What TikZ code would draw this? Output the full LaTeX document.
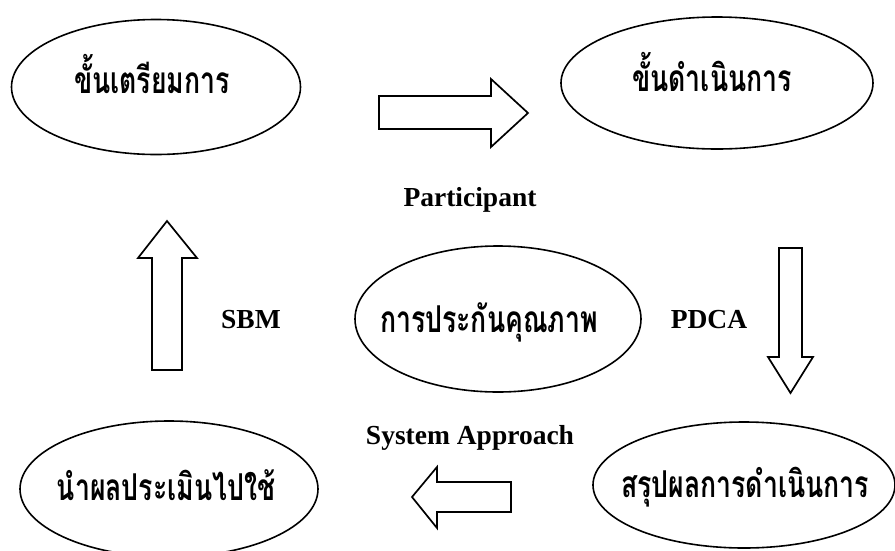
\documentclass[tikz,border=0pt]{standalone}
\usepackage{fontspec}
\setmainfont{Liberation Serif}
\newfontfamily\thaifont[Script=Thai,FakeStretch=0.72]{Loma}
\usetikzlibrary{shapes.geometric}
% #1 = baseline below centre, #2 = twice the horizontal shift
\newcommand\thtext[3]{\makebox[0pt]{\hspace*{#2}\raisebox{-#1}[0pt][0pt]{#3}}}
\begin{document}
\begin{tikzpicture}[x=1pt,y=-1pt,
  oval/.style={draw, line width=1.6pt, ellipse, inner sep=0pt,
    font=\thaifont\bfseries\fontsize{37}{40}\selectfont},
  lbl/.style={font=\bfseries\fontsize{27.5}{30}\selectfont, inner sep=0pt},
  blockarrow/.style={draw, line width=1.7pt, line join=miter, fill=white}]
\useasboundingbox (0,0) rectangle (895,550);
% ellipses
\node[oval, minimum width=289pt, minimum height=135pt] (prep) at (156,87) {\thtext{6pt}{-8pt}{ขั้นเตรียมการ}};
\node[oval, minimum width=312pt, minimum height=132pt] (exec) at (717,83) {\thtext{8pt}{-10pt}{ขั้นดำเนินการ}};
\node[oval, minimum width=286pt, minimum height=146pt] (qa) at (498,319) {\thtext{13pt}{-18pt}{การประกันคุณภาพ}};
\node[oval, minimum width=298pt, minimum height=136pt] (use) at (169,489) {\thtext{11pt}{-6pt}{นำผลประเมินไปใช้}};
\node[oval, minimum width=302pt, minimum height=126pt] (sum) at (744,485) {\thtext{12pt}{2pt}{สรุปผลการดำเนินการ}};
% labels
\node[lbl] (participant) at (470,200) {Participant};
\node[lbl] (sbm) at (251,320) {SBM};
\node[lbl] (pdca) at (709,320) {PDCA};
\node[lbl] (sysapp) at (470,438) {System Approach};
% block arrows
\draw[blockarrow] (379,96) -- (491,96) -- (491,79) -- (528,113) -- (491,147) -- (491,129) -- (379,129) -- cycle;
\draw[blockarrow] (779,248) -- (802,248) -- (802,357) -- (813,357) -- (790.5,393) -- (768,357) -- (779,357) -- cycle;
\draw[blockarrow] (511,482) -- (437,482) -- (437,467) -- (412,497) -- (437,528) -- (437,512) -- (511,512) -- cycle;
\draw[blockarrow] (152,370) -- (152,258) -- (138,258) -- (167,221) -- (197,258) -- (182,258) -- (182,370) -- cycle;
\end{tikzpicture}
\end{document}
